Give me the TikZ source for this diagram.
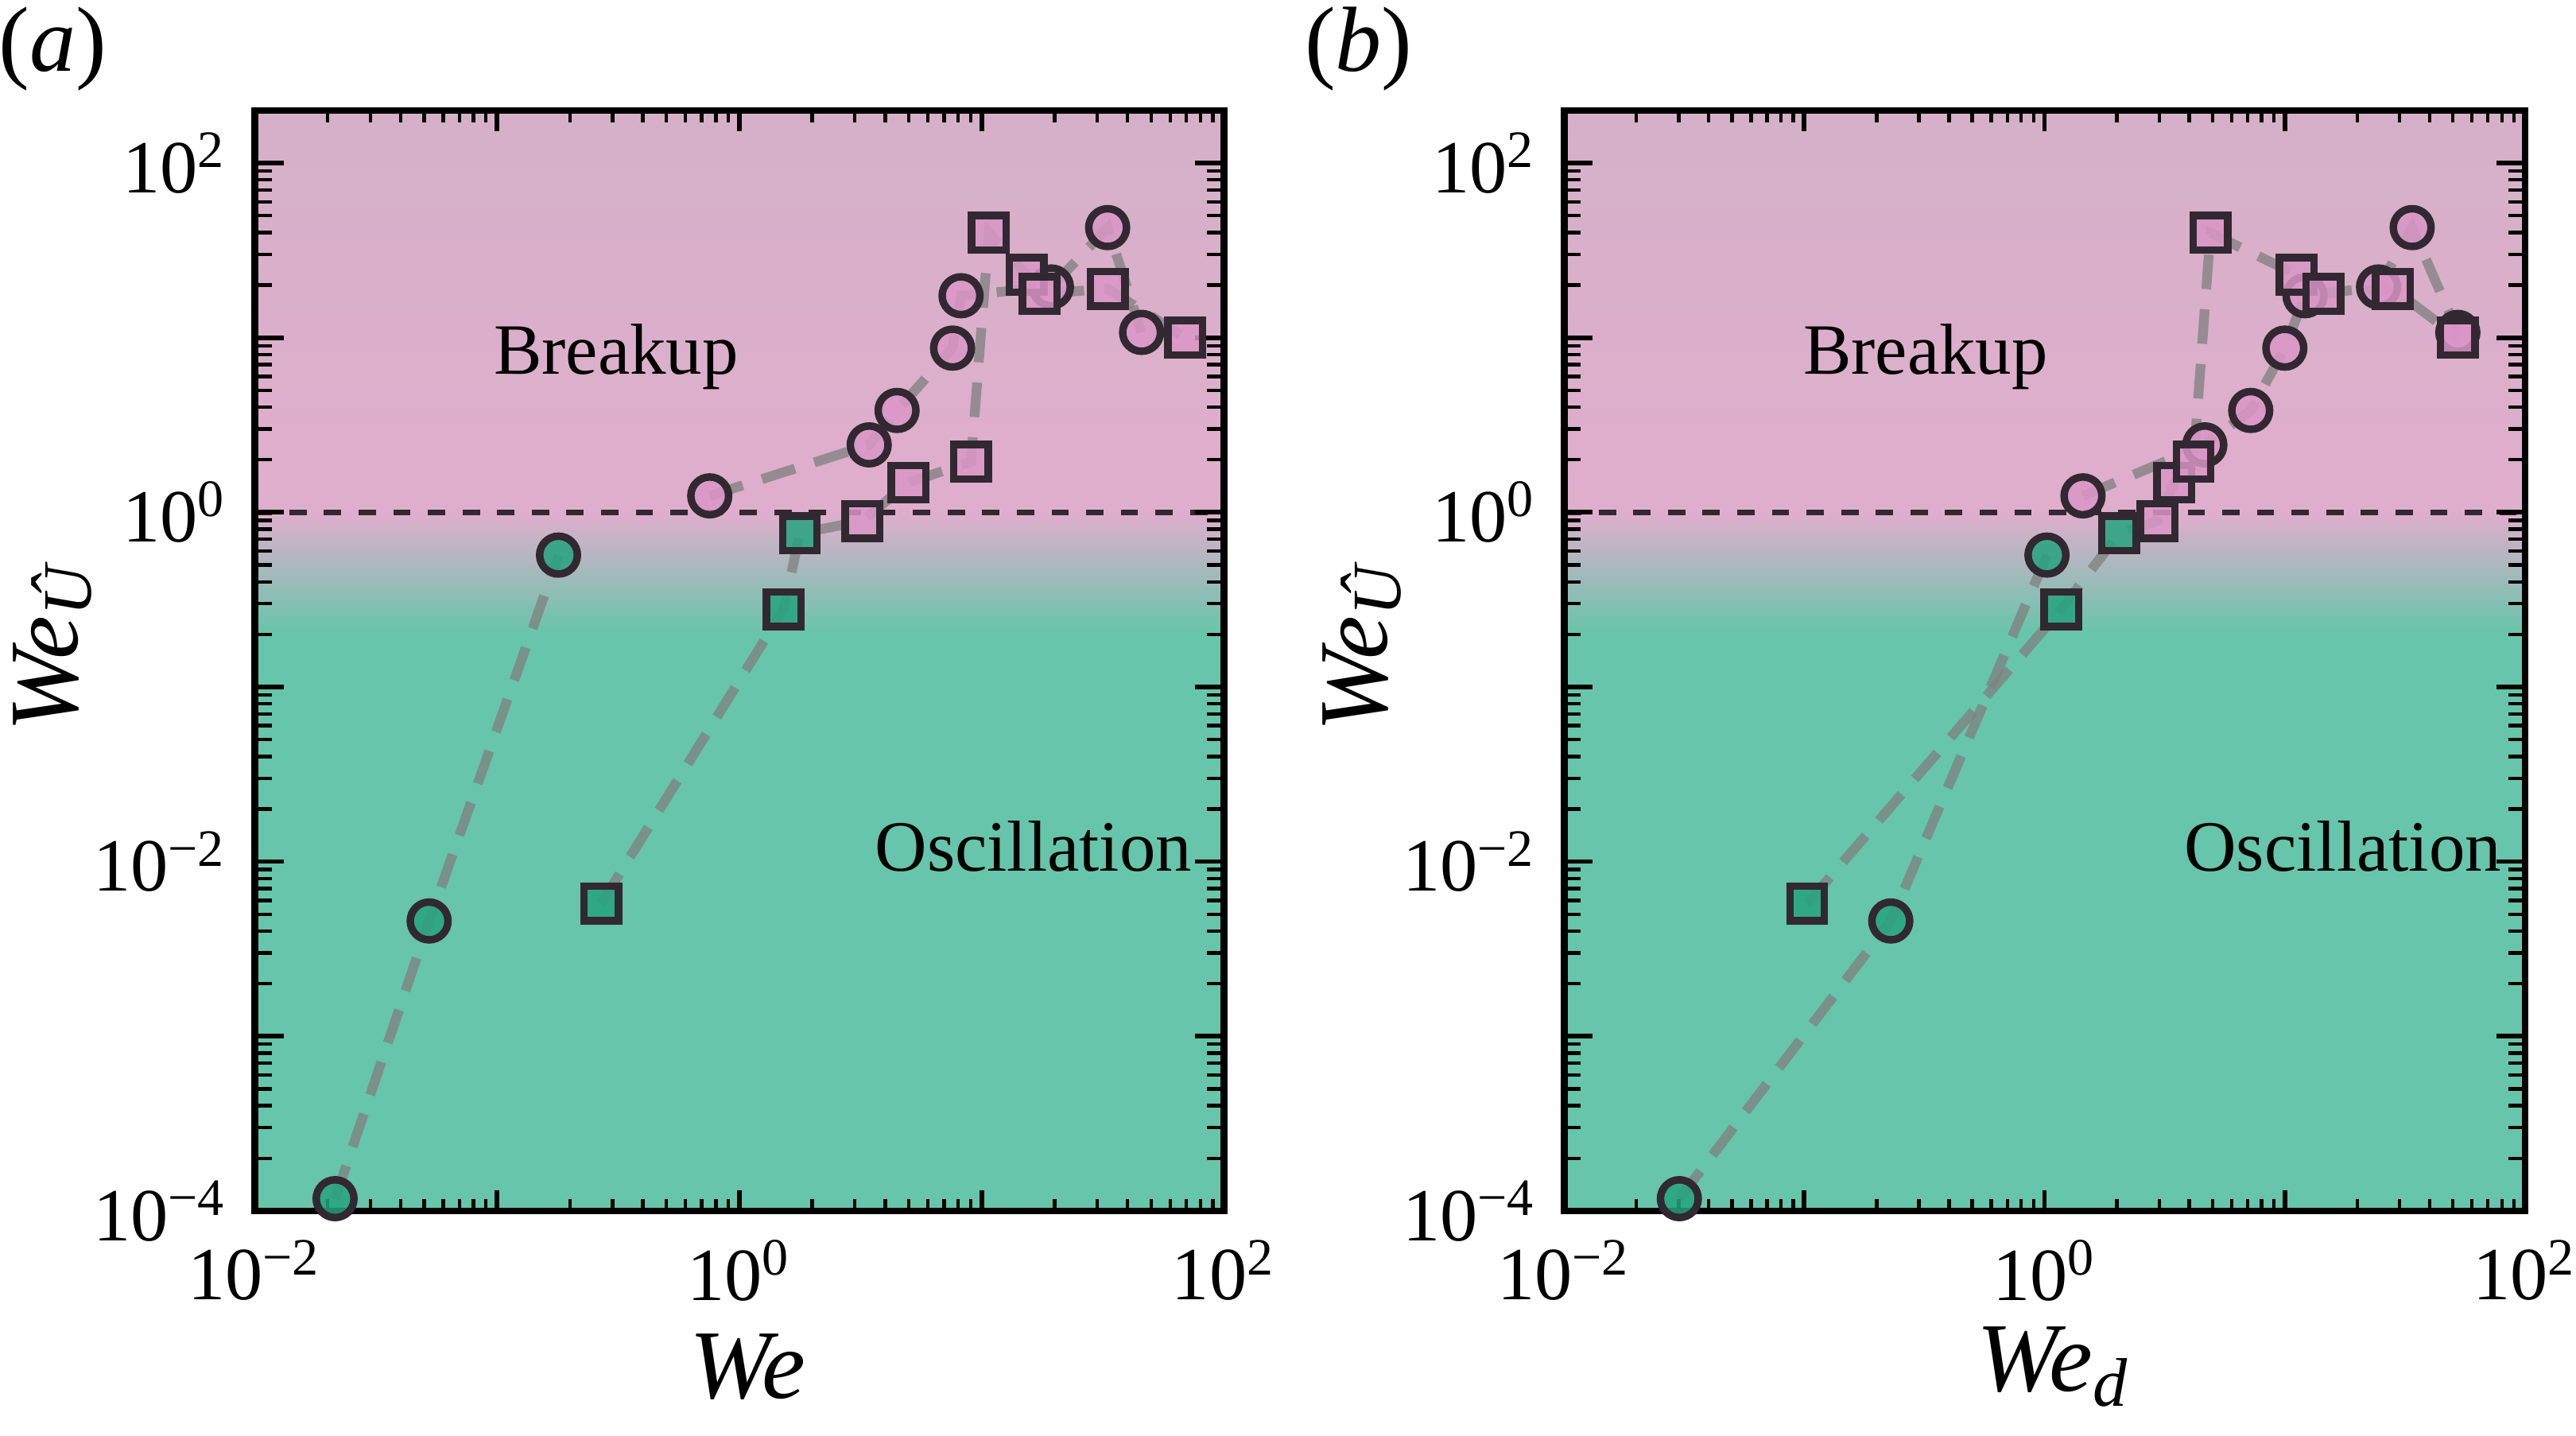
\documentclass[tikz,border=0pt]{standalone}
\usepackage{fontspec}
\setmainfont{Liberation Serif}
\definecolor{pinktop}{RGB}{213,176,200}
\definecolor{pinkbg}{RGB}{224,174,205}
\definecolor{greenbg}{RGB}{102,197,170}
\definecolor{pinkmk}{RGB}{218,150,198}
\definecolor{greenmk}{RGB}{38,163,128}
\definecolor{edge}{RGB}{50,40,50}
\tikzset{
  circ/.style={circle, draw=edge, line width=1.3pt, minimum size=0.23cm, inner sep=0pt},
  sq/.style={rectangle, draw=edge, line width=1.3pt, minimum size=0.21cm, inner sep=0pt},
  link/.style={gray, opacity=0.75, line width=1.7pt, dash pattern=on 6pt off 3.5pt},
  ticklab/.style={font=\fontsize{13}{15}\selectfont},
  region/.style={font=\fontsize{12.5}{15}\selectfont},
  axlab/.style={font=\fontsize{17}{20}\selectfont\itshape},
}
\newcommand\logframe{%
  % Background regions
  \shade[top color=pinktop, bottom color=pinkbg] (0,4) rectangle (4,6.3);
  \shade[top color=pinkbg, bottom color=greenbg] (0,3.3) rectangle (4,4);
  \fill[greenbg] (0,0) rectangle (4,3.3);
  \draw[dashed, line width=1pt, edge] (0,4) -- (4,4);
  % Ticks
  \foreach \d in {0,...,4} {
    \draw[line width=0.8pt] (\d,0) -- ++(0,0.12);
    \draw[line width=0.8pt] (\d,6.3) -- ++(0,-0.12);
  }
  \foreach \d in {0,...,3} \foreach \m in {2,...,9} {
    \draw[line width=0.6pt] ({\d+log10(\m)},0) -- ++(0,0.07);
    \draw[line width=0.6pt] ({\d+log10(\m)},6.3) -- ++(0,-0.07);
  }
  \foreach \d in {0,...,6} {
    \draw[line width=0.8pt] (0,\d) -- ++(0.12,0);
    \draw[line width=0.8pt] (4,\d) -- ++(-0.12,0);
  }
  \foreach \d in {0,...,5} \foreach \m in {2,...,9} {
    \draw[line width=0.6pt] (0,{\d+log10(\m)}) -- ++(0.07,0);
    \draw[line width=0.6pt] (4,{\d+log10(\m)}) -- ++(-0.07,0);
  }
  \draw[line width=0.6pt] (0,{6+log10(2)}) -- ++(0.07,0);
  \draw[line width=0.6pt] (4,{6+log10(2)}) -- ++(-0.07,0);
  \draw[line width=1.2pt] (0,0) rectangle (4,6.3);
  % Tick labels
  \foreach \d/\t in {0/\textsuperscript{−2},2/\textsuperscript{0},4/\textsuperscript{2}}
    \node[ticklab, below] at (\d,-0.05) {10\t};
  \foreach \d/\t in {0/\textsuperscript{−4},2/\textsuperscript{−2},4/\textsuperscript{0},6/\textsuperscript{2}}
    \node[ticklab, left] at (-0.03,\d) {10\t};
}
\begin{document}
\begin{tikzpicture}
\useasboundingbox (0,0) rectangle (15.68,8.74);

% Panel (a)
\begin{scope}[shift={(1.55,1.37)}, x=1.475cm, y=1.063cm]
  \logframe
  \node[region] (a-brk) at ({(375-155)/147.5},{(737-217)/106.3}) {Breakup};
  \node[region] (a-osc) at ({(629-155)/147.5},{(737-515)/106.3}) {Oscillation};
  \foreach \i/\x/\y in {1/-1.668/-3.93, 2/-1.28/-2.34, 3/-0.746/-0.245, 4/-0.122/0.094, 5/0.536/0.386,
      6/0.651/0.583, 7/0.88/0.94, 8/0.915/1.24, 9/1.288/1.29, 10/1.52/1.63, 11/1.66/1.03}
    \coordinate (a-c-\i) at (\x+2,\y+4);
  \foreach \i/\x/\y in {1/-0.57/-2.24, 2/0.183/-0.555, 3/0.25/-0.12, 4/0.508/-0.05, 5/0.698/0.17,
      6/0.956/0.29, 7/1.03/1.6, 8/1.186/1.36, 9/1.24/1.25, 10/1.52/1.28, 11/1.84/1.0}
    \coordinate (a-s-\i) at (\x+2,\y+4);
  \draw[link] (a-c-1) -- (a-c-2) -- (a-c-3) (a-c-4) -- (a-c-5) -- (a-c-6) -- (a-c-7)
    -- (a-c-8) -- (a-c-9) -- (a-c-10) -- (a-c-11);
  \draw[link] (a-s-1) -- (a-s-2) -- (a-s-3) -- (a-s-4) -- (a-s-5) -- (a-s-6) -- (a-s-7)
    -- (a-s-8) -- (a-s-9) -- (a-s-10) -- (a-s-11);
  \foreach \i/\c in {1/greenmk,2/greenmk,3/greenmk,4/pinkmk,5/pinkmk,6/pinkmk,7/pinkmk,8/pinkmk,9/pinkmk,10/pinkmk,11/pinkmk}
    \node[circ, fill=\c, fill opacity=0.85] (a-cm-\i) at (a-c-\i) {};
  \foreach \i/\c in {1/greenmk,2/greenmk,3/greenmk,4/pinkmk,5/pinkmk,6/pinkmk,7/pinkmk,8/pinkmk,9/pinkmk,10/pinkmk,11/pinkmk}
    \node[sq, fill=\c, fill opacity=0.85] (a-sm-\i) at (a-s-\i) {};
\end{scope}

% Panel (b)
\begin{scope}[shift={(9.52,1.37)}, x=1.4625cm, y=1.063cm]
  \logframe
  \node[region] (b-brk) at ({(1172-952)/146.25},{(737-217)/106.3}) {Breakup};
  \node[region] (b-osc) at ({(1426-952)/146.25},{(737-515)/106.3}) {Oscillation};
  \foreach \i/\x/\y in {1/-1.52/-3.93, 2/-0.64/-2.34, 3/0.01/-0.245, 4/0.16/0.094, 5/0.667/0.386,
      6/0.858/0.583, 7/1.0/0.94, 8/1.084/1.24, 9/1.39/1.29, 10/1.53/1.63, 11/1.72/1.03}
    \coordinate (b-c-\i) at (\x+2,\y+4);
  \foreach \i/\x/\y in {1/-0.988/-2.24, 2/0.07/-0.555, 3/0.31/-0.12, 4/0.47/-0.05, 5/0.54/0.17,
      6/0.62/0.29, 7/0.69/1.6, 8/1.05/1.36, 9/1.16/1.25, 10/1.45/1.28, 11/1.72/1.0}
    \coordinate (b-s-\i) at (\x+2,\y+4);
  \draw[link] (b-c-1) -- (b-c-2) -- (b-c-3) (b-c-4) -- (b-c-5) -- (b-c-6) -- (b-c-7)
    -- (b-c-8) -- (b-c-9) -- (b-c-10) -- (b-c-11);
  \draw[link] (b-s-1) -- (b-s-2) -- (b-s-3) -- (b-s-4) -- (b-s-5) -- (b-s-6) -- (b-s-7)
    -- (b-s-8) -- (b-s-9) -- (b-s-10) -- (b-s-11);
  \foreach \i/\c in {1/greenmk,2/greenmk,3/greenmk,4/pinkmk,5/pinkmk,6/pinkmk,7/pinkmk,8/pinkmk,9/pinkmk,10/pinkmk,11/pinkmk}
    \node[circ, fill=\c, fill opacity=0.85] (b-cm-\i) at (b-c-\i) {};
  \foreach \i/\c in {1/greenmk,2/greenmk,3/greenmk,4/pinkmk,5/pinkmk,6/pinkmk,7/pinkmk,8/pinkmk,9/pinkmk,10/pinkmk,11/pinkmk}
    \node[sq, fill=\c, fill opacity=0.85] (b-sm-\i) at (b-s-\i) {};
\end{scope}

% Axis and panel labels
\node[axlab] (xa) at (4.55,0.42) {We};
\node[axlab] (xb) at (12.5,0.42) {We\textsubscript{d}};
\node[axlab, rotate=90] (ya) at (0.32,4.79) {We\raisebox{-0.3ex}{\fontsize{12}{14}\selectfont Û}};
\node[axlab, rotate=90] (yb) at (8.29,4.79) {We\raisebox{-0.3ex}{\fontsize{12}{14}\selectfont Û}};
\node[font=\fontsize{16}{19}\selectfont] (pa) at (0.32,8.44) {(\textit{a})};
\node[font=\fontsize{16}{19}\selectfont] (pb) at (8.27,8.44) {(\textit{b})};
\end{tikzpicture}
\end{document}
